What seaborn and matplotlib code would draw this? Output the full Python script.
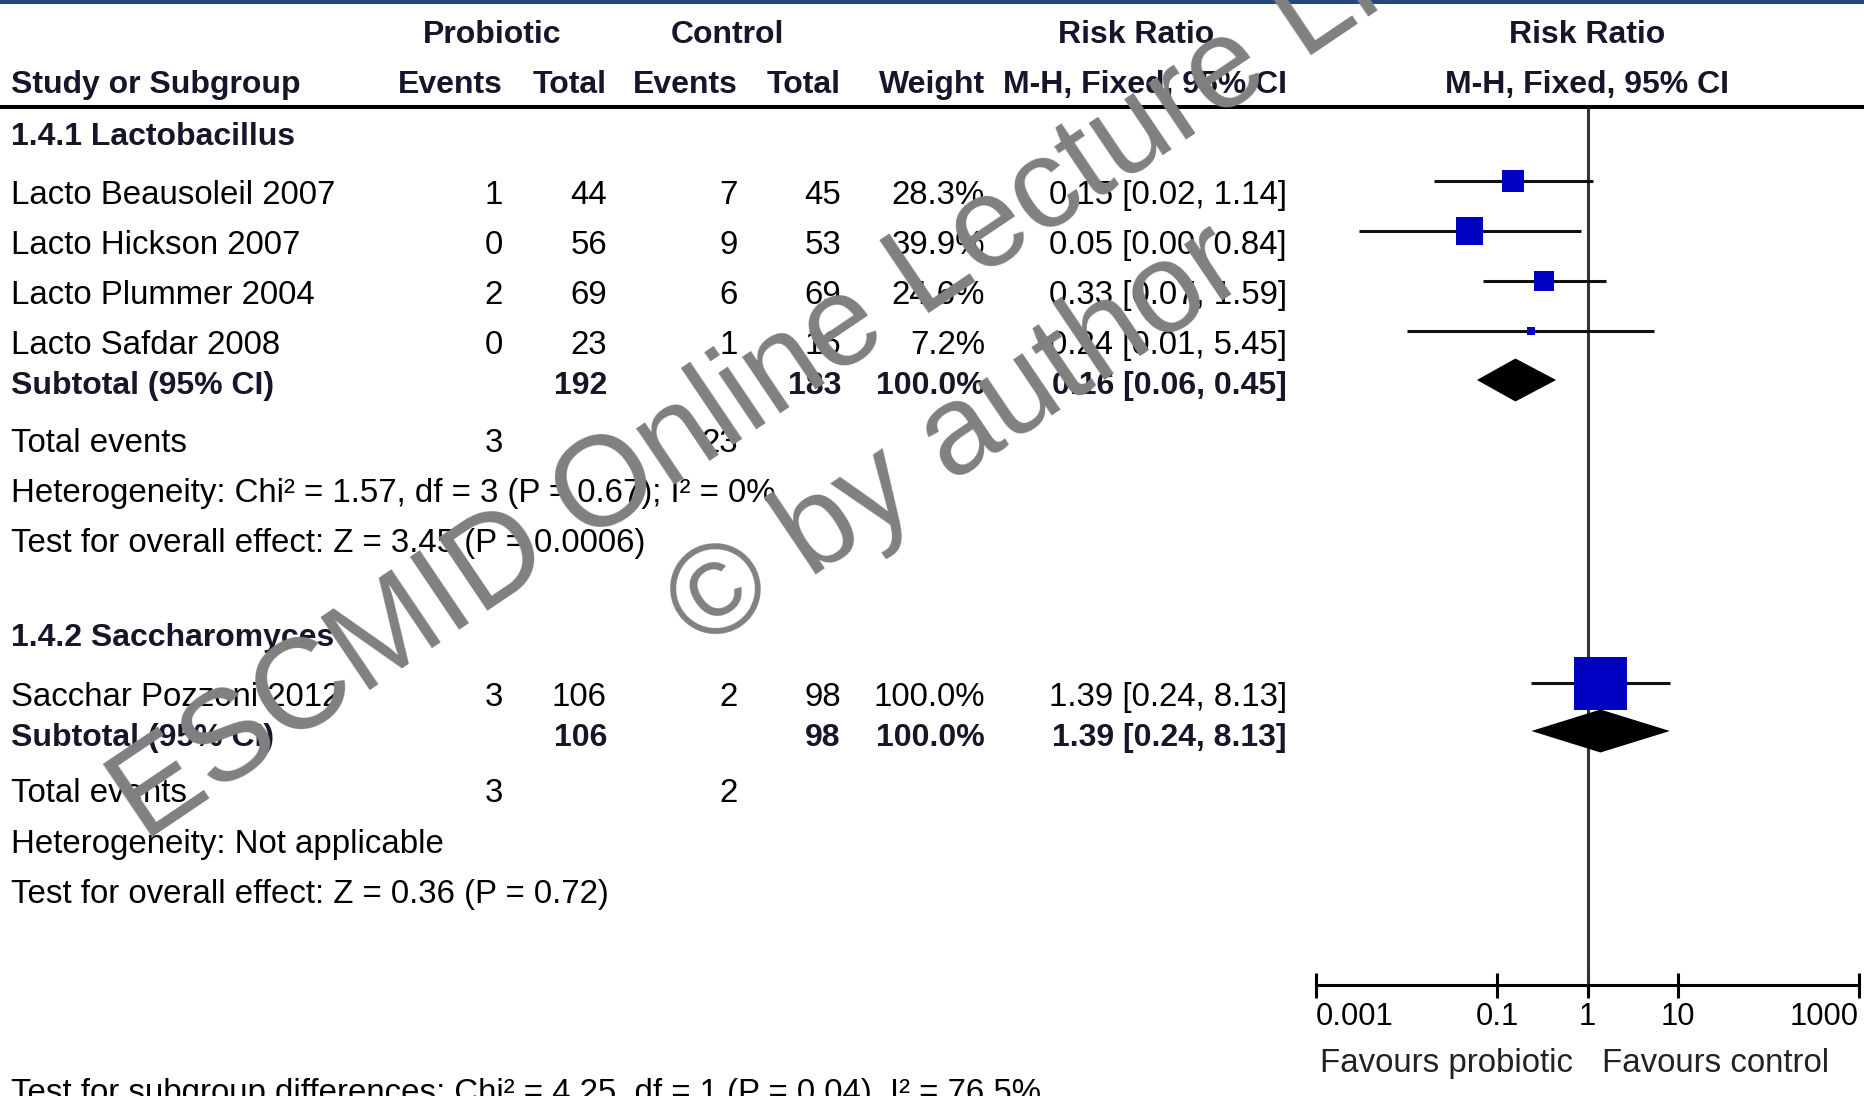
import numpy as np
import pandas as pd
import matplotlib
matplotlib.use("Agg")
import matplotlib.pyplot as plt
import seaborn as sns

# ---- study-level data ----
studies = ["Lacto Beausoleil 2007", "Lacto Hickson 2007", "Lacto Plummer 2004",
           "Lacto Safdar 2008", "Sacchar Pozzoni 2012"]
study_group = [0, 0, 0, 0, 1]
pro_events = [1, 0, 2, 0, 3]
pro_total = [44, 56, 69, 23, 106]
ctl_events = [7, 9, 6, 1, 2]
ctl_total = [45, 53, 69, 16, 98]
weights = [28.3, 39.9, 24.6, 7.2, 100.0]
rr = [0.15, 0.05, 0.33, 0.24, 1.39]
rr_low = [0.02, 0.003, 0.07, 0.01, 0.24]
rr_high = [1.14, 0.84, 1.59, 5.45, 8.13]

# ---- subgroup summaries ----
group_names = ["1.4.1 Lactobacillus", "1.4.2 Saccharomyces"]
group_pro_total = [192, 106]
group_ctl_total = [183, 98]
group_pro_events = [3, 3]
group_ctl_events = [23, 2]
group_weight = [100.0, 100.0]
group_rr = [0.16, 1.39]
group_low = [0.06, 0.24]
group_high = [0.45, 8.13]
group_het = ["Heterogeneity: Chi\u00b2 = 1.57, df = 3 (P = 0.67); I\u00b2 = 0%",
             "Heterogeneity: Not applicable"]
group_test = ["Test for overall effect: Z = 3.45 (P = 0.0006)",
              "Test for overall effect: Z = 0.36 (P = 0.72)"]
subgroup_diff = "Test for subgroup differences: Chi\u00b2 = 4.25, df = 1 (P = 0.04), I\u00b2 = 76.5%"

axis_ticks = [0.001, 0.1, 1, 10, 1000]
axis_tick_labels = ["0.001", "0.1", "1", "10", "1000"]
favours = ["Favours probiotic", "Favours control"]

# ---- styling ----
sns.set_theme(style="white")
plt.rcParams["font.family"] = ["Liberation Sans", "DejaVu Sans"]

W, H = 1864, 1096
fig = plt.figure(figsize=(W / 100, H / 100), dpi=100)
fig.patch.set_facecolor("white")

# text layer in pixel units
tx = fig.add_axes([0, 0, 1, 1])
tx.set_xlim(0, W)
tx.set_ylim(H, 0)
tx.axis("off")

FS = 23.8
FSB = 23.0
BOLD_C = "#16162a"

# column anchors (right edges) and header
col_name = 11
col_pe, col_pt, col_ce, col_ct, col_w, col_rr = 503, 607, 738, 841, 985, 1287
plot_center = 1587

tx.add_patch(plt.Rectangle((0, 0), W, 4, color="#24487c", lw=0))
tx.plot([0, W], [107, 107], color="black", lw=2.9, solid_capstyle="butt")

def put(x, y, s, ha="left", bold=False, size=None, color=None):
    tx.text(x, y, s, ha=ha, va="baseline",
            fontsize=size if size else (FSB if bold else FS),
            fontweight="bold" if bold else "normal",
            color=color if color else (BOLD_C if bold else "black"))

put(492, 43, "Probiotic", ha="center", bold=True)
put(727, 43, "Control", ha="center", bold=True)
put(1136, 43, "Risk Ratio", ha="center", bold=True)
put(plot_center, 43, "Risk Ratio", ha="center", bold=True)
put(col_name, 93, "Study or Subgroup", bold=True)
put(col_pe, 93, "Events", ha="right", bold=True)
put(col_pt, 93, "Total", ha="right", bold=True)
put(col_ce, 93, "Events", ha="right", bold=True)
put(col_ct, 93, "Total", ha="right", bold=True)
put(col_w, 93, "Weight", ha="right", bold=True)
put(col_rr, 93, "M-H, Fixed, 95% CI", ha="right", bold=True)
put(plot_center, 93, "M-H, Fixed, 95% CI", ha="center", bold=True)

def ci_text(m, lo, hi):
    return f"{m:.2f} [{lo:.2f}, {hi:.2f}]"

# vertical layout (pixel rows)
group_title_y = [145, 646]
study_mark_y = [181, 231, 281, 331, 683]
group_mark_y = [380, 731]
group_text_y = [394, 746]
total_ev_y = [452, 802]
het_y = [502, 853]
test_y = [552, 903]

for g, name in enumerate(group_names):
    put(col_name, group_title_y[g], name, bold=True)

for i, name in enumerate(studies):
    yb = study_mark_y[i] + 23
    put(col_name, yb, name)
    put(col_pe, yb, str(pro_events[i]), ha="right")
    put(col_pt, yb, str(pro_total[i]), ha="right")
    put(col_ce, yb, str(ctl_events[i]), ha="right")
    put(col_ct, yb, str(ctl_total[i]), ha="right")
    put(col_w, yb, f"{weights[i]:.1f}%", ha="right")
    put(col_rr, yb, ci_text(rr[i], rr_low[i], rr_high[i]), ha="right")

for g in range(len(group_names)):
    yb = group_text_y[g]
    put(col_name, yb, "Subtotal (95% CI)", bold=True)
    put(col_pt, yb, str(group_pro_total[g]), ha="right", bold=True)
    put(col_ct, yb, str(group_ctl_total[g]), ha="right", bold=True)
    put(col_w, yb, f"{group_weight[g]:.1f}%", ha="right", bold=True)
    put(col_rr, yb, ci_text(group_rr[g], group_low[g], group_high[g]), ha="right", bold=True)
    put(col_name, total_ev_y[g], "Total events")
    put(col_pe, total_ev_y[g], str(group_pro_events[g]), ha="right")
    put(col_ce, total_ev_y[g], str(group_ctl_events[g]), ha="right")
    put(col_name, het_y[g], group_het[g])
    put(col_name, test_y[g], group_test[g])

put(col_name, 1102, subgroup_diff)
put(1573, 1072, favours[0], ha="right", color="#222222")
put(1602, 1072, favours[1], ha="left", color="#222222")

# ---- forest plot panel (log10 risk ratio) ----
x0, x1 = 1316, 1859
ax = fig.add_axes([x0 / W, 0, (x1 - x0) / W, 1])
ax.set_xlim(-3, 3)
ax.set_ylim(H, 0)
ax.patch.set_alpha(0)
for side in ["top", "left", "right"]:
    ax.spines[side].set_visible(False)
ax.spines["bottom"].set_position(("data", 985))
ax.spines["bottom"].set_bounds(-3, 3)
ax.spines["bottom"].set_linewidth(2.2)
ax.spines["bottom"].set_color("black")
ax.set_yticks([])
ax.set_xticks(np.log10(axis_ticks))
ax.set_xticklabels(axis_tick_labels)
ax.tick_params(axis="x", which="major", bottom=True, top=False,
               direction="inout", length=18, width=2.2, color="black",
               labelsize=22.3, labelcolor="black", pad=3)
labels = ax.get_xticklabels()
labels[0].set_ha("left")
labels[-1].set_ha("right")

# line of no effect
ax.vlines(0, 107, 985, color="#333333", lw=2.2, zorder=1)

df = pd.DataFrame({
    "study": studies,
    "log_rr": np.log10(rr),
    "log_lo": np.log10(rr_low),
    "log_hi": np.log10(rr_high),
    "weight": weights,
    "y": study_mark_y,
})

ax.hlines(df["y"], df["log_lo"], df["log_hi"], color="#111111", lw=2.2, zorder=2,
          clip_on=False)
side_pt = 53 * (df["weight"] / 100.0) ** 0.72 * 0.72
sns.scatterplot(data=df, x="log_rr", y="y", marker="s", s=side_pt ** 2,
                color="#0000c0", linewidth=0, legend=False, ax=ax, zorder=4,
                clip_on=False)

for g in range(len(group_names)):
    yc = group_mark_y[g]
    lo, m, hi = np.log10([group_low[g], group_rr[g], group_high[g]])
    ax.fill([lo, m, hi, m], [yc, yc - 21.5, yc, yc + 21.5], color="black",
            lw=0, zorder=3, clip_on=False)

ax.set_xlabel("")
ax.set_ylabel("")

# ---- watermark ----
wm_kw = dict(rotation=34, rotation_mode="anchor", ha="left", va="baseline",
             fontsize=92, color="#808080", zorder=20)
tx.text(144, 843, "ESCMID Online Lecture Library", **wm_kw)
tx.text(702, 652, "\u00a9 by author", **wm_kw)
tx.set_zorder(5)

fig.savefig("out.png", dpi=100)
